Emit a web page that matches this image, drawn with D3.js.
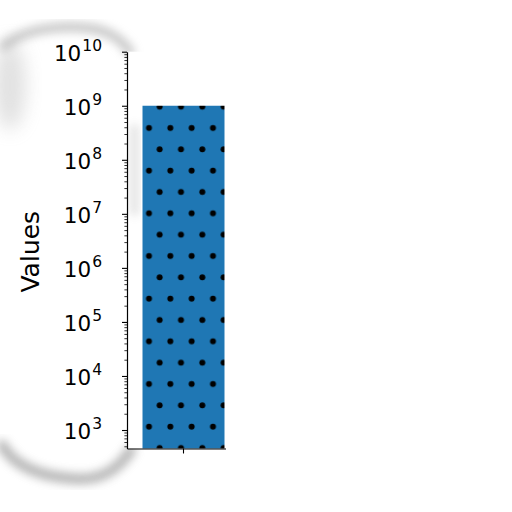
<!DOCTYPE html>
<html>
<head>
<meta charset="utf-8">
<script src="https://cdn.jsdelivr.net/npm/d3@7"></script>
<style>
body { margin: 0; background: #fff; }
text { font-family: "DejaVu Sans", sans-serif; fill: #000; }
</style>
</head>
<body>
<div id="chart"></div>
<script>
// data
var categories = ["A"];
var values = [1e9];
var majorExponents = [3, 4, 5, 6, 7, 8, 9, 10];
var yLabel = "Values";

// layout
var width = 512, height = 512;
var plotLeft = 127, plotRight = 240, plotTop = 51.7, plotBottom = 448.5;
var clipRight = 226;

var svg = d3.select("#chart")
  .append("svg")
  .attr("width", width)
  .attr("height", height);

var defs = svg.append("defs");

defs.append("filter").attr("id", "edgeBlur")
  .attr("x", "-30%").attr("y", "-30%")
  .attr("width", "160%").attr("height", "160%")
  .append("feGaussianBlur").attr("stdDeviation", 5);

defs.append("filter").attr("id", "wideBlur")
  .attr("x", "-50%").attr("y", "-50%")
  .attr("width", "200%").attr("height", "200%")
  .append("feGaussianBlur").attr("stdDeviation", 9);

// dot hatch
var hatch = defs.append("pattern")
  .attr("id", "dots")
  .attr("patternUnits", "userSpaceOnUse")
  .attr("x", 143.67).attr("y", 416)
  .attr("width", 21.33).attr("height", 42.67);
hatch.append("rect").attr("width", 21.33).attr("height", 42.67).attr("fill", "#1f77b4");
hatch.append("circle").attr("cx", 5.33).attr("cy", 10.67).attr("r", 3).attr("fill", "#000");
hatch.append("circle").attr("cx", 16).attr("cy", 32).attr("r", 3).attr("fill", "#000");
hatch.append("circle").attr("cx", 16 - 21.33).attr("cy", 32).attr("r", 3).attr("fill", "#000");

defs.append("clipPath").attr("id", "plotClip")
  .append("rect")
  .attr("x", 0).attr("y", 0)
  .attr("width", clipRight).attr("height", height);

// torn paper shadow round the left part
var edge = svg.append("g").attr("class", "paperEdge");
edge.append("path")
  .attr("d", "M 4,46 C 25,28 65,24 95,29 C 112,33 122,40 130,52")
  .attr("fill", "none").attr("stroke", "#8c8c8c")
  .attr("stroke-width", 9).attr("stroke-linecap", "round")
  .attr("opacity", 0.5)
  .attr("filter", "url(#edgeBlur)");
edge.append("path")
  .attr("d", "M 2,445 C 15,468 45,478 80,479 C 105,479 120,467 131,450")
  .attr("fill", "none").attr("stroke", "#808080")
  .attr("stroke-width", 10).attr("stroke-linecap", "round")
  .attr("opacity", 0.6)
  .attr("filter", "url(#edgeBlur)");
edge.append("path")
  .attr("d", "M 1,60 L 1,440")
  .attr("fill", "none").attr("stroke", "#a0a0a0")
  .attr("stroke-width", 8)
  .attr("opacity", 0.45)
  .attr("filter", "url(#edgeBlur)");
edge.append("ellipse")
  .attr("cx", 10).attr("cy", 85)
  .attr("rx", 16).attr("ry", 45)
  .attr("fill", "#aaa").attr("opacity", 0.35)
  .attr("filter", "url(#wideBlur)");

// axes background
svg.append("rect")
  .attr("x", plotLeft).attr("y", plotTop)
  .attr("width", clipRight - plotLeft).attr("height", plotBottom - plotTop)
  .attr("fill", "#fff");

// faint shade next to the spine
svg.append("rect")
  .attr("x", 131).attr("y", 125)
  .attr("width", 7).attr("height", 90)
  .attr("fill", "#888").attr("opacity", 0.3)
  .attr("filter", "url(#edgeBlur)");

// scales
var xScale = d3.scaleBand()
  .domain(categories)
  .range([plotLeft, plotRight])
  .paddingInner(0.159)
  .paddingOuter(0.159);

var yScale = d3.scaleLog()
  .domain([Math.pow(10, 2.658), 1e10])
  .range([plotBottom, plotTop]);

var plot = svg.append("g").attr("clip-path", "url(#plotClip)");

// bars
plot.selectAll(".bar")
  .data(values)
  .enter()
  .append("rect")
  .attr("class", "bar")
  .attr("x", function(d, i) { return xScale(categories[i]); })
  .attr("width", xScale.bandwidth())
  .attr("y", function(d) { return yScale(d); })
  .attr("height", function(d) { return plotBottom - yScale(d); })
  .attr("fill", "url(#dots)");

// minor ticks
var minorTicks = [];
majorExponents.forEach(function(e) {
  for (var m = 2; m <= 9; m++) {
    var v = m * Math.pow(10, e - 1);
    if (v >= yScale.domain()[0] && v <= yScale.domain()[1]) minorTicks.push(v);
  }
});

var yMinor = d3.axisLeft(yScale)
  .tickValues(minorTicks)
  .tickSize(2.6)
  .tickSizeOuter(0)
  .tickFormat("");
svg.append("g")
  .attr("class", "yMinor")
  .attr("transform", "translate(" + plotLeft + ",0)")
  .call(yMinor)
  .call(function(g) { g.select(".domain").remove(); })
  .selectAll("line").attr("stroke-width", 0.8);

var yAxis = d3.axisLeft(yScale)
  .tickValues(majorExponents.map(function(e) { return Math.pow(10, e); }))
  .tickSize(5)
  .tickSizeOuter(0)
  .tickFormat("");
var yG = svg.append("g")
  .attr("class", "yAxis")
  .attr("transform", "translate(" + plotLeft + ",0)")
  .call(yAxis);
yG.select(".domain").attr("stroke-width", 1.2);
yG.selectAll(".tick line").attr("stroke-width", 1.1);

// tick labels as 10 with superscript exponent
yG.selectAll(".tick").each(function(d) {
  var e = Math.round(Math.log10(d));
  var t = d3.select(this).append("text")
    .attr("x", -25)
    .attr("y", 8.3)
    .attr("text-anchor", "end")
    .attr("font-size", 21.5);
  t.append("tspan").text("10");
  t.append("tspan")
    .attr("font-size", 15.5)
    .attr("dy", -9.5)
    .attr("dx", 1)
    .text(e);
});

// x axis, clipped at the torn edge
var xAxis = d3.axisBottom(xScale)
  .tickSize(5)
  .tickSizeOuter(0)
  .tickFormat(function() { return ""; });
var xG = svg.append("g")
  .attr("class", "xAxis")
  .attr("clip-path", "url(#plotClip)")
  .append("g")
  .attr("transform", "translate(0," + plotBottom + ")")
  .call(xAxis);
xG.select(".domain").attr("stroke-width", 1.2);
xG.selectAll(".tick line").attr("stroke-width", 1.1);

// y label
svg.append("text")
  .attr("transform", "translate(38.5," + 251.7 + ")rotate(-90)")
  .attr("text-anchor", "middle")
  .attr("font-size", 25)
  .text(yLabel);
</script>
</body>
</html>
